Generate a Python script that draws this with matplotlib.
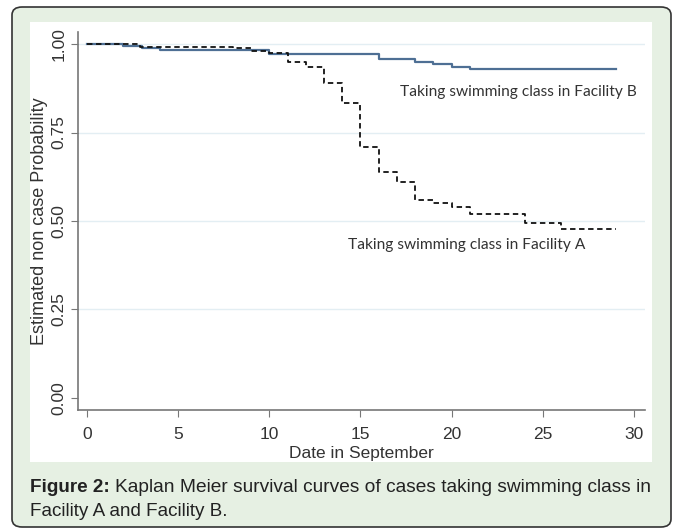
import numpy as np
import matplotlib.pyplot as plt
from matplotlib.patches import FancyBboxPatch, Rectangle

# Kaplan Meier steps
t_a = [0, 2.9, 8, 9, 10, 11, 12, 13, 14, 15, 16, 17, 18, 19, 20, 21, 24, 26, 29]
s_a = [1.0, 0.992, 0.989, 0.980, 0.975, 0.949, 0.935, 0.89, 0.833, 0.709,
       0.638, 0.61, 0.559, 0.551, 0.54, 0.52, 0.494, 0.477, 0.477]
t_b = [0, 2, 3, 4, 10, 16, 18, 19, 20, 21, 29]
s_b = [1.0, 0.994, 0.989, 0.983, 0.972, 0.958, 0.949, 0.945, 0.935, 0.929, 0.929]

xticks = [0, 5, 10, 15, 20, 25, 30]
yticks = [0.0, 0.25, 0.5, 0.75, 1.0]
ylabels = ['0.00', '0.25', '0.50', '0.75', '1.00']

W, H = 675, 530
fig = plt.figure(figsize=(W/100, H/100), dpi=100)
fig.patch.set_facecolor('white')

def px(x0, y0, x1, y1):
    return [x0/W, 1-y1/H, (x1-x0)/W, (y1-y0)/H]

# outer rounded box and white picture panel, behind the axes
box = FancyBboxPatch((12/W, 1-527/H), 659/W, 520/H,
                     boxstyle='round,pad=0,rounding_size=0.015',
                     transform=fig.transFigure, facecolor='#e6f0e3',
                     edgecolor='#333333', linewidth=1.2, zorder=-10)
fig.patches.append(box)
fig.patches.append(Rectangle((30/W, 1-462/H), 622/W, 440/H,
                             transform=fig.transFigure, facecolor='white',
                             edgecolor='none', zorder=-9))

ax = fig.add_axes(px(78, 32, 645, 410))
ax.set_facecolor('none')
ax.set_xlim(-0.49, 30.6)
ax.set_ylim(-0.034, 1.034)

for y in yticks[1:]:
    ax.axhline(y, color='#e3eef3', lw=1.0, zorder=0)

ax.step(t_b, s_b, where='post', color='#4e6f94', lw=1.6)
ax.step(t_a, s_a, where='post', color='#111111', lw=1.3, dashes=(3, 2))

lab_font = 'Liberation Sans'
ax.text(17.17, 0.864, 'Taking swimming class in Facility B', fontsize=11.2,
        family=['Lato', 'DejaVu Sans'], va='center', color='#333333')
ax.text(14.3, 0.432, 'Taking swimming class in Facility A', fontsize=11.2,
        family=['Lato', 'DejaVu Sans'], va='center', color='#333333')

for s in ['top', 'right']:
    ax.spines[s].set_visible(False)
for s in ['left', 'bottom']:
    ax.spines[s].set_color('#777777')
    ax.spines[s].set_linewidth(1.2)

ax.set_xticks(xticks)
ax.set_yticks(yticks)
ax.set_yticklabels(ylabels, rotation=90, va='center')
ax.tick_params(axis='both', direction='out', length=5, color='#777777',
               labelsize=12.5, labelcolor='#333333')
ax.tick_params(axis='x', pad=7)
for lab in ax.get_xticklabels() + ax.get_yticklabels():
    lab.set_family(lab_font)
ax.set_xlabel('Date in September', fontsize=12.5, family=lab_font,
              color='#333333', labelpad=3)
ax.set_ylabel('Estimated non case Probability', fontsize=13, family=lab_font,
              color='#333333', labelpad=2)

fig.text(30/W, 1-488/H, 'Figure 2:', fontsize=13.6, weight='bold',
         family='Liberation Sans', va='center', color='#222222')
fig.text(651/W, 1-488/H,
         'Kaplan Meier survival curves of cases taking swimming class in',
         fontsize=13.8, family='Liberation Sans', va='center', ha='right',
         color='#222222')
fig.text(30/W, 1-511/H, 'Facility A and Facility B.', fontsize=13.6,
         family='Liberation Sans', va='center', color='#222222')

fig.savefig('out.png', dpi=100)
